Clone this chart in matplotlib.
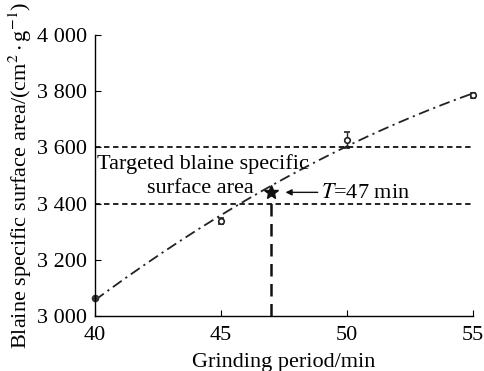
import numpy as np
import matplotlib.pyplot as plt

# measured blaine specific surface area vs grinding time
period = [40, 45, 50, 55]
area = [3064, 3338, 3625, 3785]
area_err = [6, 12, 28, 10]

target_time = 47
target_area = 3440
target_band = [3400, 3600]

plt.rcParams['font.family'] = ['Liberation Serif', 'DejaVu Serif']
plt.rcParams['mathtext.fontset'] = 'stix'

fig = plt.figure(figsize=(4.85, 3.71), dpi=100)
ax = fig.add_axes([0.196, 0.148, 0.779, 0.758])

# fitted trend through measured points
coef = np.polyfit(period, area, 2)
xs = np.linspace(40, 55, 200)
ax.plot(xs, np.polyval(coef, xs), color='#222222', lw=1.3, ls=(0, (6, 2.5, 1.2, 2.5)))

ax.errorbar(period[1:], area[1:], yerr=area_err[1:], fmt='o', ms=4, mfc='white',
            mec='#222222', mew=1.2, ecolor='#222222', elinewidth=1, capsize=2, clip_on=False)
ax.plot(period[0], area[0], 'o', ms=4.5, color='#333333', clip_on=False)
ax.plot(target_time, target_area, marker='*', ms=10, color='#111111')

for yv in target_band:
    ax.plot([40, 55], [yv, yv], color='#111111', lw=1.3, ls=(0, (3, 2)))
ax.plot([target_time, target_time], [3000, target_area], color='#111111', lw=1.8, ls=(0, (5, 3)))

ax.text(44.3, 3541, 'Targeted blaine specific', fontsize=16, ha='center', va='center')
ax.text(44.2, 3452, 'surface area', fontsize=16, ha='center', va='center')
ax.annotate('', xy=(47.45, target_area), xytext=(48.95, target_area),
            arrowprops=dict(arrowstyle='-|>', color='#111111', lw=1, mutation_scale=9))
ax.text(48.98, target_area - 5, '$T$=47 min', fontsize=16, ha='left', va='center')

ax.set_xlim(40, 55)
ax.set_ylim(3000, 4000)
ax.set_xticks([40, 45, 50, 55])
ax.set_yticks([3000, 3200, 3400, 3600, 3800, 4000])
ax.set_yticklabels(['3 000', '3 200', '3 400', '3 600', '3 800', '4 000'])
ax.tick_params(direction='in', labelsize=16, length=4, width=0.8)
ax.tick_params(axis='x', pad=7)
ax.tick_params(axis='y', pad=6)
ax.spines['top'].set_visible(False)
ax.spines['right'].set_visible(False)
for s in ['left', 'bottom']:
    ax.spines[s].set_linewidth(1)

ax.set_xlabel('Grinding period/min', fontsize=16, labelpad=6)
ax.set_ylabel(r'Blaine specific surface area/(cm$^2\cdot$g$^{-1}$)', fontsize=16, labelpad=2)

fig.savefig('out.png', dpi=100)
